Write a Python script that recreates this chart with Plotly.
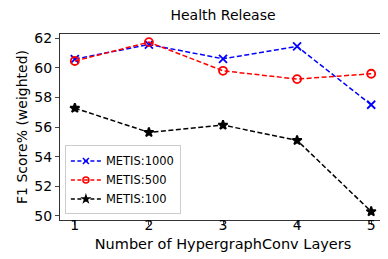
import plotly.graph_objects as go

layers = [1, 2, 3, 4, 5]
metis_1000 = [60.58, 61.56, 60.6, 61.43, 57.5]
metis_500 = [60.45, 61.72, 59.79, 59.23, 59.59]
metis_100 = [57.27, 55.64, 56.13, 55.1, 50.3]
y_ticks = [50, 52, 54, 56, 58, 60, 62]

series = [
    ("METIS:1000", metis_1000, "blue", "x-thin", 8),
    ("METIS:500", metis_500, "red", "circle-open", 8),
    ("METIS:100", metis_100, "black", "star", 7),
]

dash = "5px,2.5px"
fig = go.Figure()
for name, vals, color, sym, sz in series:
    fig.add_trace(go.Scatter(x=layers, y=vals, name=name, mode="lines+markers", showlegend=False,
                             line=dict(color=color, dash=dash, width=1.5),
                             marker=dict(symbol=sym, size=sz, color=color, line=dict(color=color, width=1.8))))
# legend entries with smaller markers
for name, vals, color, sym, sz in series:
    fig.add_trace(go.Scatter(x=[None], y=[None], name=name, mode="lines+markers",
                             line=dict(color=color, dash="4px,2.5px", width=1.5),
                             marker=dict(symbol=sym, size=sz - 2, color=color, line=dict(color=color, width=1.5))))
# invisible trace on label axis
fig.add_trace(go.Scatter(x=[None], y=[None], xaxis="x2", showlegend=False, hoverinfo="skip"))

font = "DejaVu Sans"
fig.update_layout(
    width=388, height=259,
    margin=dict(l=52, r=10, t=26, b=40),
    paper_bgcolor="white", plot_bgcolor="white",
    font=dict(family=font, color="black", size=14),
    title=dict(text="Health Release", x=0.5, xanchor="center", xref="paper", y=0.99, yanchor="top",
               font=dict(size=14)),
    legend=dict(x=0.015, y=0.065, xanchor="left", yanchor="bottom", bgcolor="rgba(255,255,255,0.8)",
                bordercolor="#cccccc", borderwidth=1, font=dict(size=11.5), tracegroupgap=0,
                itemwidth=30),
    showlegend=True,
    xaxis=dict(range=[0.8, 5.2], tickvals=layers, ticks="outside", ticklen=4, showgrid=False,
               showticklabels=False, zeroline=False, showline=True, linecolor="#333", mirror=True,
               linewidth=1, automargin=False,
               title=dict(text="Number of HypergraphConv Layers", standoff=14, font=dict(size=14.5))),
    xaxis2=dict(range=[0.8, 5.2], tickvals=layers, overlaying="x", anchor="free", position=0.062,
                side="bottom", ticks="", showgrid=False, zeroline=False, showline=False, automargin=False),
    yaxis=dict(domain=[0.0363, 1], range=[49.73, 62.27], tickvals=y_ticks, ticks="outside", ticklen=4,
               showgrid=False, zeroline=False, showline=True, linecolor="#333", mirror=True, linewidth=1,
               automargin=False,
               title=dict(text="F1 Score% (weighted)", standoff=3, font=dict(size=14))),
)

fig.write_html("out.html")
